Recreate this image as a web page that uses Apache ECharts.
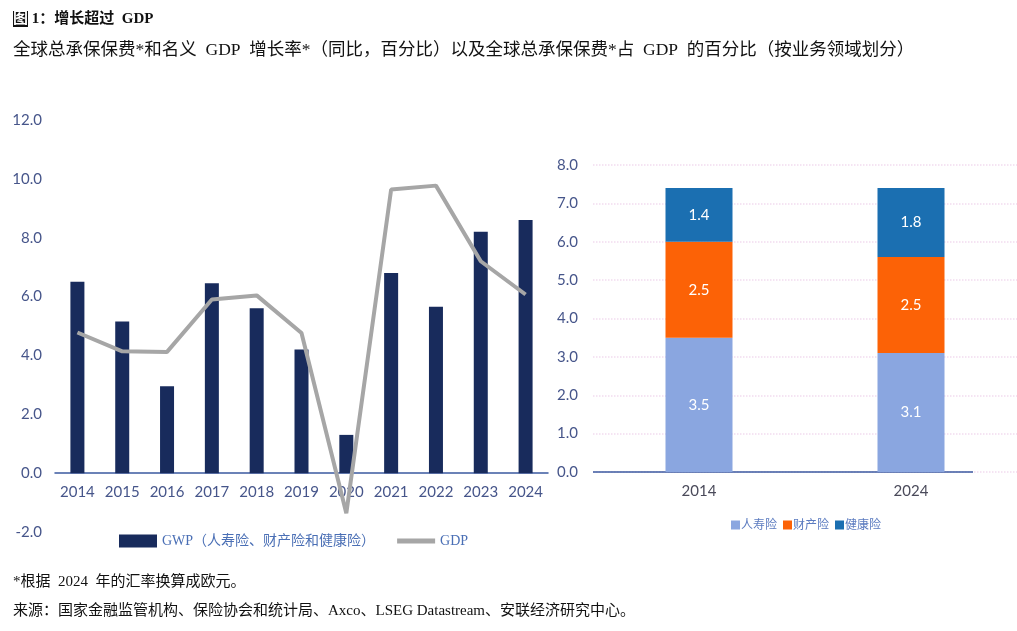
<!DOCTYPE html>
<html>
<head>
<meta charset="utf-8">
<script src="https://cdn.jsdelivr.net/npm/echarts@6/dist/echarts.min.js"></script>
<style>
  html, body { margin: 0; padding: 0; background: #fff; }
  #main { width: 1017px; height: 631px; }
</style>
</head>
<body>
<div id="main"></div>
<script>
// left chart: growth rates
let years = ['2014','2015','2016','2017','2018','2019','2020','2021','2022','2023','2024'];
let gwpGrowth = [6.5, 5.15, 2.95, 6.45, 5.6, 4.2, 1.3, 6.8, 5.65, 8.2, 8.6];
let gdpGrowth = [4.78, 4.14, 4.12, 5.9, 6.04, 4.76, -1.36, 9.64, 9.77, 7.2, 6.07];

// right chart: share of GDP by line of business
let shareYears = ['2014','2024'];
let lifeShare = [3.5, 3.1];
let propertyShare = [2.5, 2.5];
let healthShare = [1.4, 1.8];

let serif = '"Liberation Serif", "Noto Sans CJK SC", serif';
let sans = 'Lato, "Noto Sans CJK SC", sans-serif';
let tickColor = '#46558a';
let axisBlue = '#3b5aa0';
let leftBottom = 99;

let chart = echarts.init(document.getElementById('main'));

chart.setOption({
  animation: false,
  title: [
    {
      text: '{box|图} 1：增长超过  GDP',
      left: 8, top: 6,
      textStyle: {
        fontFamily: serif, fontSize: 15, fontWeight: 'bold', color: '#111',
        rich: {
          box: { backgroundColor: '#111', color: '#fff', fontSize: 15, fontWeight: 'bold', padding: [1, 0, 0, 0], fontFamily: serif }
        }
      }
    },
    {
      text: '全球总承保保费*和名义  GDP  增长率*（同比，百分比）以及全球总承保保费*占  GDP  的百分比（按业务领域划分）',
      left: 8, top: 37,
      textStyle: { fontFamily: serif, fontSize: 17.5, fontWeight: 'normal', color: '#111' }
    },
    {
      text: '*根据  2024  年的汇率换算成欧元。',
      left: 8, top: 570,
      textStyle: { fontFamily: serif, fontSize: 15, fontWeight: 'normal', color: '#111' }
    },
    {
      text: '来源：国家金融监管机构、保险协会和统计局、Axco、LSEG Datastream、安联经济研究中心。',
      left: 8, top: 599,
      textStyle: { fontFamily: serif, fontSize: 15, fontWeight: 'normal', color: '#111' }
    }
  ],
  legend: [
    {
      left: 114, top: 529,
      itemWidth: 38, itemHeight: 13, itemGap: 22,
      data: [
        { name: 'GWP（人寿险、财产险和健康险）', icon: 'rect' },
        { name: 'GDP', icon: 'path://M0,0 L38,0 L38,5 L0,5 Z' }
      ],
      textStyle: { fontFamily: serif, fontSize: 14, color: '#4a6fb5' }
    },
    {
      left: 726, top: 514,
      itemWidth: 9, itemHeight: 9, itemGap: 6,
      icon: 'rect',
      data: ['人寿险', '财产险', '健康险'],
      textStyle: { fontFamily: sans, fontSize: 12, color: '#5b7bc0', padding: [0, 0, 0, -4] }
    }
  ],
  grid: [
    { left: 55, width: 493, top: 120, bottom: leftBottom },
    { left: 593, right: -8, top: 165, bottom: 159 }
  ],
  xAxis: [
    {
      type: 'category', gridIndex: 0, data: years,
      axisLine: { onZero: false, lineStyle: { color: axisBlue, width: 1.5 } },
      axisTick: { show: false },
      axisLabel: { color: tickColor, fontFamily: sans, fontSize: 15, margin: 12, interval: 0 }
    },
    {
      type: 'category', gridIndex: 1, data: shareYears,
      axisLine: { show: false },
      axisTick: { show: false },
      axisLabel: { color: '#4a4a5a', fontFamily: sans, fontSize: 15, margin: 12 }
    }
  ],
  yAxis: [
    {
      type: 'value', gridIndex: 0, min: -2, max: 12, interval: 2,
      axisLine: { show: false }, axisTick: { show: false },
      splitLine: { show: false },
      axisLabel: { color: tickColor, fontFamily: sans, fontSize: 15, margin: 13, formatter: v => v.toFixed(1) }
    },
    {
      type: 'value', gridIndex: 1, min: 0, max: 8, interval: 1,
      axisLine: { show: false }, axisTick: { show: false },
      splitLine: { show: true, lineStyle: { color: '#f2dcef', type: 'dotted', width: 1.5 } },
      axisLabel: { color: tickColor, fontFamily: sans, fontSize: 15, margin: 15, formatter: v => v.toFixed(1) }
    }
  ],
  series: [
    {
      name: 'GWP（人寿险、财产险和健康险）', type: 'bar',
      xAxisIndex: 0, yAxisIndex: 0,
      barWidth: 14, data: gwpGrowth,
      itemStyle: { color: '#182b5c' }
    },
    {
      name: 'GDP', type: 'line',
      xAxisIndex: 0, yAxisIndex: 0,
      data: gdpGrowth, symbol: 'none',
      lineStyle: { color: '#a6a6a6', width: 4 },
      itemStyle: { color: '#a6a6a6' }
    },
    {
      name: '人寿险', type: 'bar', stack: 'share',
      xAxisIndex: 1, yAxisIndex: 1, barWidth: 67,
      data: lifeShare,
      itemStyle: { color: '#8aa6e0' },
      label: { show: true, color: '#fff', fontFamily: sans, fontSize: 15, formatter: p => p.value.toFixed(1) }
    },
    {
      name: '财产险', type: 'bar', stack: 'share',
      xAxisIndex: 1, yAxisIndex: 1, barWidth: 67,
      data: propertyShare,
      itemStyle: { color: '#fc6206' },
      label: { show: true, color: '#fff', fontFamily: sans, fontSize: 15, formatter: p => p.value.toFixed(1) }
    },
    {
      name: '健康险', type: 'bar', stack: 'share',
      xAxisIndex: 1, yAxisIndex: 1, barWidth: 67,
      data: healthShare,
      itemStyle: { color: '#1b6fb1' },
      label: { show: true, color: '#fff', fontFamily: sans, fontSize: 15, formatter: p => p.value.toFixed(1) }
    }
  ]
});

// left category axis sits on the zero line, right baseline stops short of the grid edge
let zeroLeft = chart.convertToPixel({ yAxisIndex: 0 }, 0);
let zeroRight = chart.convertToPixel({ yAxisIndex: 1 }, 0);
let gridBottomY = chart.getHeight() - leftBottom;
chart.setOption({
  xAxis: [{ offset: zeroLeft - gridBottomY }, {}],
  graphic: [{
    type: 'line',
    shape: { x1: 593, y1: zeroRight, x2: 973, y2: zeroRight },
    style: { stroke: axisBlue, lineWidth: 1.5 }
  }]
});
</script>
</body>
</html>
